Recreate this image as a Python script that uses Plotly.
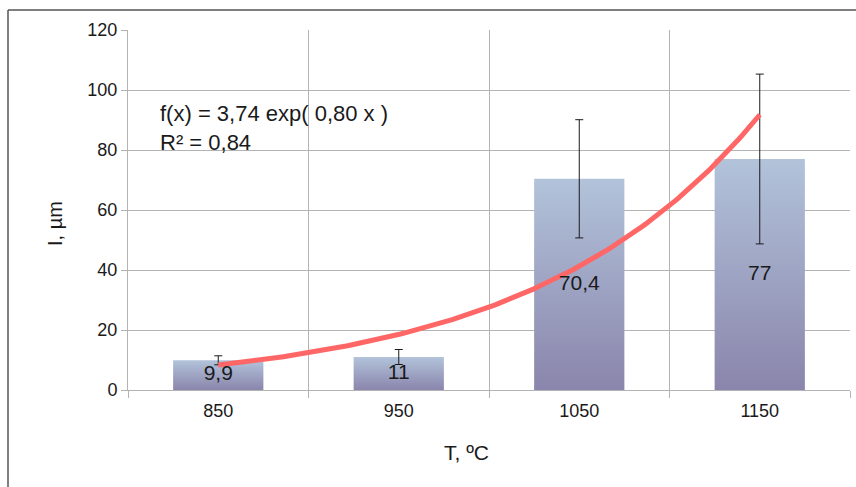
import plotly.graph_objects as go
import numpy as np

# ---- data ----
temps = ["850", "950", "1050", "1150"]
values = [9.9, 11.0, 70.4, 77.0]
errors = [1.5, 2.5, 19.7, 28.3]
fit_a = 3.74
fit_b = 0.80
r2 = 0.84
y_ticks = [0, 20, 40, 60, 80, 100, 120]

W, H = 856, 487
ML, MR, MT, MB = 128, 6, 30, 97
pw, ph = W - ML - MR, H - MT - MB

pos = list(range(1, len(temps) + 1))
bar_half = 0.25

fig = go.Figure()

# bars with vertical gradient
for p, v in zip(pos, values):
    fig.add_trace(go.Scatter(
        x=[p - bar_half, p + bar_half, p + bar_half, p - bar_half, p - bar_half],
        y=[0, 0, v, v, 0],
        mode="lines", line=dict(width=0), fill="toself",
        fillgradient=dict(type="vertical",
                          colorscale=[[0, "#8a85ac"], [1, "#b2c3da"]]),
        hoverinfo="skip", showlegend=False))

# error bars
fig.add_trace(go.Scatter(
    x=pos, y=values, mode="markers", marker=dict(size=0.1, color="rgba(0,0,0,0)"),
    error_y=dict(type="data", array=errors, visible=True, color="#1a1a1a",
                 thickness=1, width=4),
    showlegend=False, hoverinfo="skip"))

# trend curve
xs = np.linspace(pos[0], pos[-1], 200)
fig.add_trace(go.Scatter(
    x=xs, y=fit_a * np.exp(fit_b * xs), mode="lines",
    line=dict(color="#ff6666", width=5), showlegend=False, hoverinfo="skip"))

# value labels
fig.add_trace(go.Scatter(
    x=pos, y=[v / 2 for v in values], mode="text",
    text=[("%g" % v).replace(".", ",") for v in values],
    textfont=dict(size=21, color="#1a1a1a", family="Liberation Sans"),
    showlegend=False, hoverinfo="skip"))

grid = "#b3b3b3"
fig.update_layout(
    width=W, height=H,
    margin=dict(l=ML, r=MR, t=MT, b=MB),
    paper_bgcolor="white", plot_bgcolor="white",
    font=dict(family="Liberation Sans", color="#1a1a1a", size=18),
    xaxis=dict(range=[0.5, len(temps) + 0.5], tickmode="array", tickvals=pos,
               ticktext=temps, ticks="", showgrid=False, zeroline=False,
               showline=True, linecolor=grid, linewidth=1,
               tickfont=dict(size=18), ticklabelstandoff=4,
               minor=dict(tickmode="array",
                          tickvals=[p - 0.5 for p in pos] + [pos[-1] + 0.5],
                          ticks="outside", ticklen=7, tickcolor=grid,
                          showgrid=True, gridcolor=grid, gridwidth=1)),
    yaxis=dict(range=[0, 120], tickmode="array", tickvals=y_ticks,
               ticks="outside", ticklen=6, tickcolor=grid,
               showgrid=True, gridcolor=grid, gridwidth=1, zeroline=False,
               showline=True, linecolor=grid, tickfont=dict(size=18)),
    annotations=[
        dict(text="f(x) = 3,74 exp( 0,80 x )<br>R² = 0,84",
             xref="paper", yref="paper", x=(158 - ML) / pw, y=1 - (99 - MT) / ph,
             xanchor="left", yanchor="top", align="left", showarrow=False,
             font=dict(size=22, color="#1a1a1a")),
        dict(text="T, ºC", xref="paper", yref="paper",
             x=(466 - ML) / pw, y=1 - (452 - MT) / ph, xanchor="center", yanchor="middle",
             showarrow=False, font=dict(size=21)),
        dict(text="I, µm", xref="paper", yref="paper", textangle=-90,
             x=(55 - ML) / pw, y=1 - (224 - MT) / ph, xanchor="center", yanchor="middle",
             showarrow=False, font=dict(size=20)),
    ],
    shapes=[
        dict(type="line", xref="paper", yref="paper",
             x0=(8 - ML) / pw, x1=(W + 5 - ML) / pw,
             y0=1 - (10 - MT) / ph, y1=1 - (10 - MT) / ph,
             line=dict(color="#555555", width=1.5)),
        dict(type="line", xref="paper", yref="paper",
             x0=(8 - ML) / pw, x1=(8 - ML) / pw,
             y0=1 - (10 - MT) / ph, y1=1 - (H + 5 - MT) / ph,
             line=dict(color="#555555", width=1.5)),
    ],
)

fig.write_html("out.html")
